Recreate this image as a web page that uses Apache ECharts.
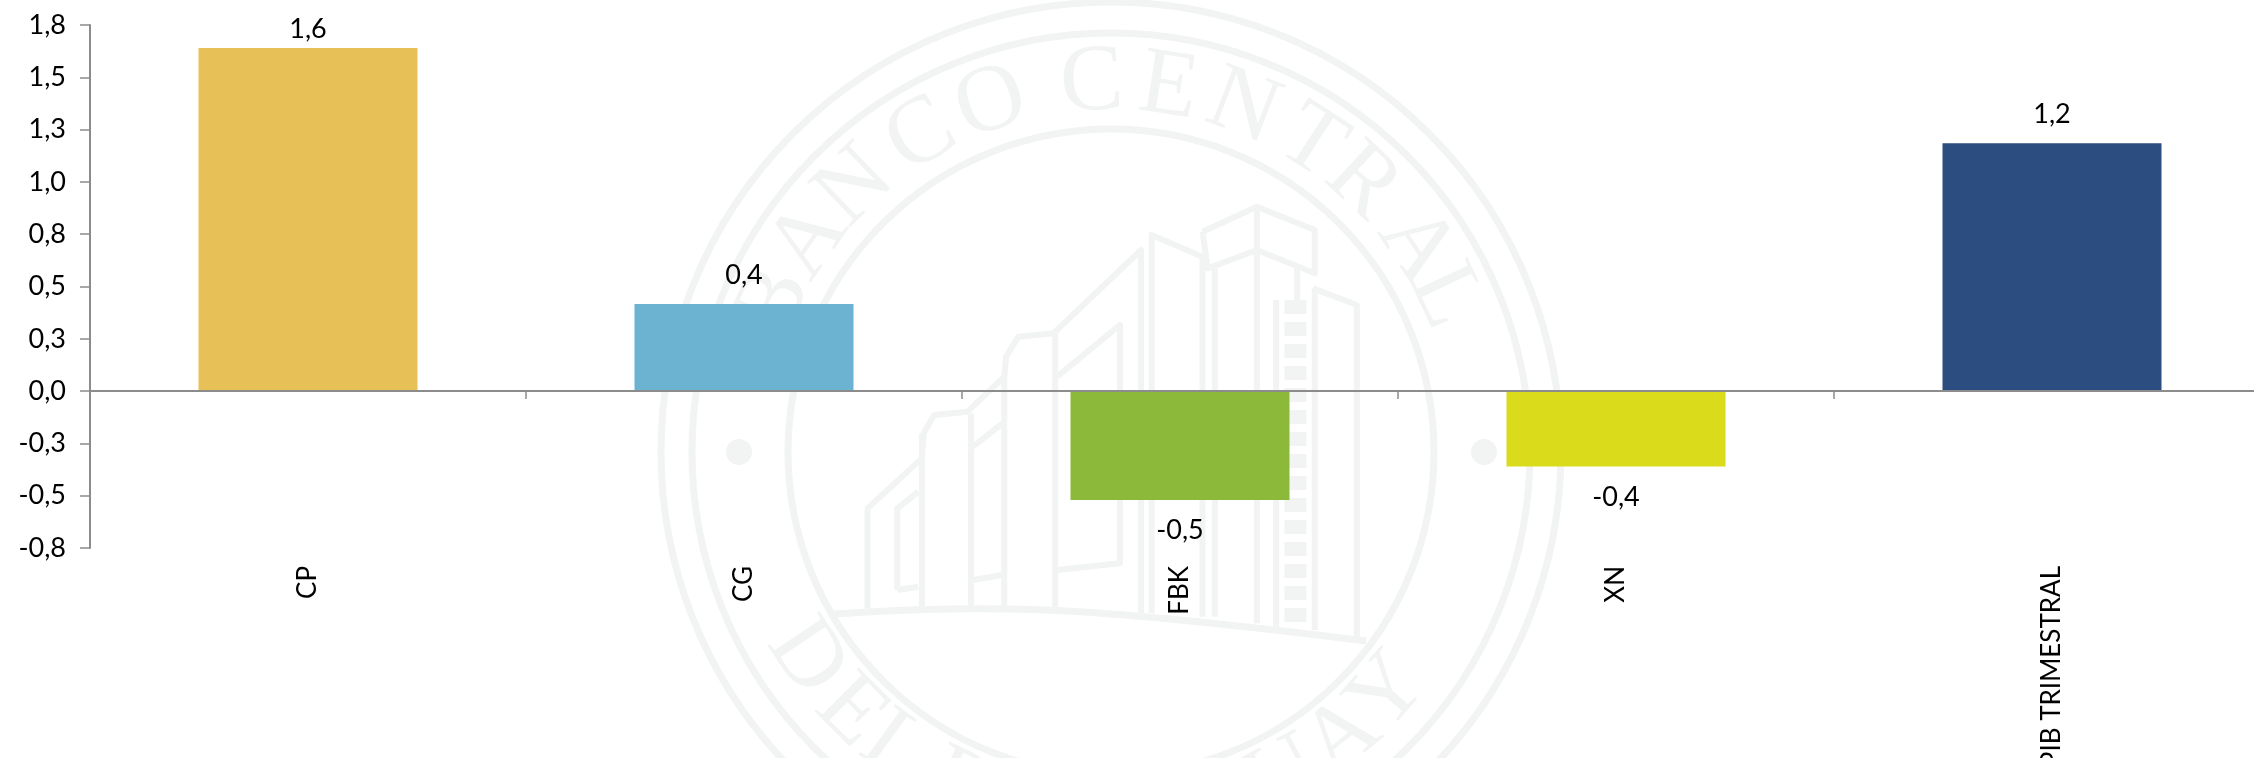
<!DOCTYPE html>
<html>
<head>
<meta charset="utf-8">
<style>html,body{margin:0;padding:0;background:#fff}#c{width:2254px;height:758px}</style>
<script src="https://cdn.jsdelivr.net/npm/echarts@6/dist/echarts.min.js"></script>
</head>
<body>
<div id="c"></div>
<script>
const categories = ['CP', 'CG', 'FBK', 'XN', 'PIB TRIMESTRAL'];
const values = [1.64, 0.416, -0.52, -0.36, 1.185];
const barColors = ['#E7C157', '#6BB3D1', '#8DB93A', '#D9DB1B', '#2B4D7F'];
const labelGaps = [5, 15, 17, 17, 15];
const tickLabels = ['-0,8', '-0,5', '-0,3', '0,0', '0,3', '0,5', '0,8', '1,0', '1,3', '1,5', '1,8'];

const FONT = 'Lato';
const SEAL = '#f1f4f3';

// Decorative watermark (institutional seal behind the chart)
const sealCx = 1111, sealCy = 452;
const sealRings = [450, 419, 323];
const topLetters = 'BANCOCENTRAL'.split('');
const topAngles = [-66, -55, -44, -31, -19, -3, 9, 21, 33, 43, 56, 65];
const bottomLetters = 'DELPARAGUAY'.split('');
const bottomAngles = [-56, -45, -36, -25, -15, -5, 5, 16, 28, 39, 49];
// Outline paths, in a 550x450 crop at (850,200) scaled 2.851 x 3
const buildingPaths = [
  [[50,1230],[50,925],[205,775],[210,700],[240,645],[335,635],[440,530],[445,470],[480,410],[580,400],[830,150],[830,1240]],
  [[205,700],[205,1225]], [[345,640],[345,1225]], [[440,530],[440,1225]], [[585,400],[585,1225]],
  [[135,1170],[135,925],[195,875]], [[135,1170],[195,1160]],
  [[350,740],[435,670]], [[350,1140],[435,1125]],
  [[590,530],[770,375],[770,1090],[590,1110]],
  [[860,1240],[860,105],[1005,170],[1005,1250]],
  [[1005,95],[1160,20],[1325,90],[1325,220],[1160,150],[1020,205],[1005,95]],
  [[1160,20],[1160,1270]], [[1040,205],[1040,1250]], [[1275,200],[1275,300]],
  [[1320,265],[1445,315],[1445,1320]], [[1325,265],[1325,1290]],
  [[1215,300],[1215,1280]]
];
const sz = ([x, y]) => [850 + x / 2.851, 200 + y / 3];

function sealElements() {
  const els = [];
  const z = -10;
  sealRings.forEach(r => els.push({ type: 'circle', z, silent: true,
    shape: { cx: sealCx, cy: sealCy, r }, style: { fill: 'none', stroke: SEAL, lineWidth: 7 } }));
  [739, 1484].forEach(x => els.push({ type: 'circle', z, silent: true,
    shape: { cx: x, cy: sealCy, r: 13 }, style: { fill: SEAL } }));
  const addLetter = (ch, x, y, rot) => els.push({ type: 'text', z, silent: true, x, y, rotation: rot,
    style: { text: ch, fill: SEAL, font: '95px "Liberation Serif", serif', textAlign: 'center', textVerticalAlign: 'middle', verticalAlign: 'middle' } });
  topLetters.forEach((ch, i) => {
    const t = topAngles[i] * Math.PI / 180;
    addLetter(ch, sealCx + 368 * Math.sin(t), sealCy - 368 * Math.cos(t), -t);
  });
  bottomLetters.forEach((ch, i) => {
    const t = bottomAngles[i] * Math.PI / 180;
    addLetter(ch, sealCx + 368 * Math.sin(t), sealCy + 368 * Math.cos(t), t);
  });
  buildingPaths.forEach(p => els.push({ type: 'polyline', z, silent: true,
    shape: { points: p.map(sz) }, style: { fill: 'none', stroke: SEAL, lineWidth: 6, lineJoin: 'round' } }));
  // window column of the tall tower
  els.push({ type: 'line', z, silent: true,
    shape: { x1: sz([1270, 300])[0], y1: 300, x2: sz([1270, 300])[0], y2: 628 },
    style: { stroke: SEAL, lineWidth: 22, lineDash: [14, 8] } });
  // ground line
  els.push({ type: 'polyline', z, silent: true,
    shape: { points: [[834, 614], [950, 609], [1066, 611], [1200, 622], [1366, 641]], smooth: 0.4 },
    style: { fill: 'none', stroke: SEAL, lineWidth: 7 } });
  return els;
}

const chart = echarts.init(document.getElementById('c'), null, { renderer: 'canvas' });
chart.setOption({
  backgroundColor: '#fff',
  animation: false,
  graphic: { elements: sealElements() },
  grid: { left: 90, top: 25, width: 2180, height: 523, containLabel: false, outerBoundsMode: 'none' },
  xAxis: [
    {
      type: 'category', data: categories, position: 'bottom', z: 5,
      axisLine: { onZero: true, lineStyle: { color: '#8c8c8c', width: 2 } },
      axisTick: { show: true, alignWithLabel: false, length: 8, lineStyle: { color: '#8c8c8c', width: 1.5 } },
      axisLabel: { show: false }
    },
    {
      type: 'category', data: categories, position: 'bottom', z: 5,
      axisLine: { show: false, onZero: false },
      axisTick: { show: false },
      axisLabel: { show: true, interval: 0, rotate: 90, margin: 18, color: '#000',
        fontFamily: FONT, fontSize: 26, hideOverlap: false, padding: [5, 0, 0, 0] }
    }
  ],
  yAxis: {
    type: 'value', min: -0.75, max: 1.75, interval: 0.25, z: 5,
    splitLine: { show: false },
    axisLine: { show: true, lineStyle: { color: '#8c8c8c', width: 2 } },
    axisTick: { show: true, length: 10, lineStyle: { color: '#8c8c8c', width: 1.5 } },
    axisLabel: { margin: 24, color: '#000', fontFamily: FONT, fontSize: 27,
      formatter: (v, i) => tickLabels[i] }
  },
  series: [{
    type: 'bar', xAxisIndex: 0, yAxisIndex: 0, barWidth: 219,
    data: values.map((v, i) => ({
      value: v,
      itemStyle: { color: barColors[i] },
      label: { show: true, position: v < 0 ? 'bottom' : 'top', distance: labelGaps[i], color: '#000',
        fontFamily: FONT, fontSize: 27,
        formatter: p => p.value.toFixed(1).replace('.', ',') }
    }))
  }]
});
</script>
</body>
</html>
